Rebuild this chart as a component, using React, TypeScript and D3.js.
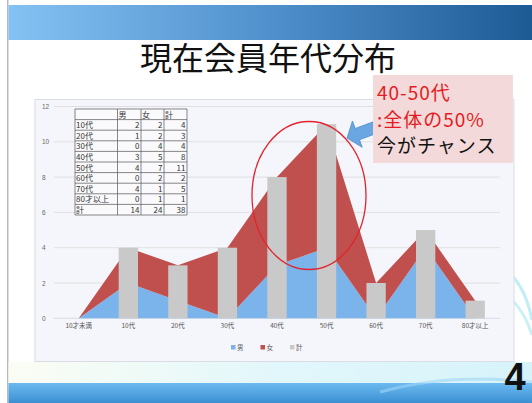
import React from 'react';
import * as d3 from 'd3';

// 年代別の会員数
const categories = ['10才未満', '10代', '20代', '30代', '40代', '50代', '60代', '70代', '80才以上'];
const male = [0, 2, 1, 0, 3, 4, 0, 4, 0];
const female = [0, 2, 2, 4, 5, 7, 2, 1, 1];
const total = [0, 4, 3, 4, 8, 11, 2, 5, 1];
const yTicks = [0, 2, 4, 6, 8, 10, 12];
const tableHeader = ['', '男', '女', '計'];
const legendItems = ['男', '女', '計'];
const calloutLines = ['40-50代', ':全体の50%', '今がチャンス'];

const W = 532;
const H = 403;
const JP = '"Noto Sans CJK JP", "Noto Sans", sans-serif';
const BLUE = '#7ab4ea';
const RED = '#c0504d';
const GRAY = '#c9c9c9';

const App: React.FC = () => {
  const x = d3.scalePoint<string>().domain(categories).range([54, 500]).padding(0.5);
  const step = x.step();
  const y = d3.scaleLinear().domain([0, 12]).range([318.3, 106.5]);

  const rows = categories.map((c, i) => ({ c, m: male[i], f: female[i], t: total[i] }));

  const maleArea = d3.area<typeof rows[number]>()
    .x(d => x(d.c) ?? 0)
    .y0(y(0))
    .y1(d => y(d.m));
  const femaleArea = d3.area<typeof rows[number]>()
    .x(d => x(d.c) ?? 0)
    .y0(d => y(d.m))
    .y1(d => y(d.m + d.f));

  const barW = step * 0.39;

  // table inside the chart
  const tableRows = rows.slice(1).map(r => [r.c, r.m, r.f, r.t]);
  tableRows.push(['計', d3.sum(male), d3.sum(female), d3.sum(total)]);
  const colX = [75, 117.5, 141, 164, 187];
  const rowH = 10.6;
  const tableTop = 109;
  const tableBottom = tableTop + rowH * (tableRows.length + 1);

  const legendColors = [BLUE, RED, GRAY];

  // arrow geometry
  const tip = [347, 138];
  const d = [-0.94, 0.35];
  const p = [0.35, 0.94];
  const pt = (k: number, w: number) =>
    `${tip[0] - d[0] * k + p[0] * w},${tip[1] - d[1] * k + p[1] * w}`;
  const arrow = [pt(0, 0), pt(11, 14), pt(11, 6), pt(40, 6), pt(40, -6), pt(11, -6), pt(11, -14)].join(' ');

  return (
    <svg width={W} height={H} style={{ position: 'absolute', left: 0, top: 0, display: 'block' }}>
      <defs>
        <linearGradient id="hdr" x1="0" x2="1" y1="0" y2="0">
          <stop offset="0" stopColor="#84c2f3" />
          <stop offset="0.5" stopColor="#4f8fcb" />
          <stop offset="1" stopColor="#1b5993" />
        </linearGradient>
        <linearGradient id="foot" x1="0" x2="0" y1="0" y2="1">
          <stop offset="0" stopColor="#6cbaf0" />
          <stop offset="1" stopColor="#3b8fd2" />
        </linearGradient>
        <linearGradient id="glow" x1="0" x2="1" y1="0" y2="0">
          <stop offset="0" stopColor="#fbfdf4" />
          <stop offset="0.5" stopColor="#e2f7fb" />
          <stop offset="1" stopColor="#d6f3fa" />
        </linearGradient>
      </defs>

      <rect x={0} y={0} width={W} height={H} fill="#fff" />
      <rect x={7} y={0} width={1.5} height={H} fill="#b9b9c2" />
      <rect x={8.5} y={5} width={W} height={35} fill="url(#hdr)" />
      <rect x={8.5} y={362} width={W} height={21} fill="url(#glow)" />
      <rect x={8.5} y={383} width={W} height={20} fill="url(#foot)" />
      <path d="M380,392 C430,378 480,376 532,382" stroke="#9fd6f6" strokeWidth={3} fill="none" opacity={0.6} />
      <path d="M505,270 C520,280 528,300 532,320" stroke="#bfeef6" strokeWidth={3} fill="none" />
      <path d="M512,300 C522,310 528,322 532,335" stroke="#c9f1f7" strokeWidth={3} fill="none" />

      <text x={268} y={70} textAnchor="middle" fontFamily={JP} fontSize={32} fill="#111">
        現在会員年代分布
      </text>

      {/* chart panel */}
      <rect x={35} y={99.5} width={479} height={262} fill="#f5f6fb" stroke="#dcdce4" />

      {yTicks.map(t => (
        <g key={t}>
          <line x1={54} x2={500} y1={y(t)} y2={y(t)} stroke={t === 0 ? '#cfd3e0' : '#dadada'} strokeWidth={0.8} />
          <text x={42} y={y(t) + 2.5} fontFamily="Arial, sans-serif" fontSize={6.5} fill="#666">{t}</text>
        </g>
      ))}

      <path d={maleArea(rows) ?? ''} fill={BLUE} />
      <path d={femaleArea(rows) ?? ''} fill={RED} />

      {rows.map(r => (
        <rect key={r.c} x={(x(r.c) ?? 0) - barW / 2} y={y(r.t)} width={barW} height={y(0) - y(r.t)} fill={GRAY} />
      ))}

      {categories.map(c => (
        <text key={c} x={x(c)} y={328} textAnchor="middle" fontFamily={JP} fontSize={6.5} fill="#555">{c}</text>
      ))}

      {/* legend */}
      {legendItems.map((l, i) => (
        <g key={l} transform={`translate(${231 + i * 29.5},345)`}>
          <rect x={0} y={0} width={4.5} height={4.5} fill={legendColors[i]} />
          <text x={6} y={5} fontFamily={JP} fontSize={6.5} fill="#555">{l}</text>
        </g>
      ))}

      {/* data table */}
      <rect x={colX[0]} y={tableTop} width={colX[4] - colX[0]} height={tableBottom - tableTop} fill="#fafafd" />
      {d3.range(tableRows.length + 2).map(i => (
        <line key={'h' + i} x1={colX[0]} x2={colX[4]} y1={tableTop + i * rowH} y2={tableTop + i * rowH} stroke="#555" strokeWidth={0.7} />
      ))}
      {colX.map((cx, i) => (
        <line key={'v' + i} x1={cx} x2={cx} y1={tableTop} y2={tableBottom} stroke="#555" strokeWidth={0.7} />
      ))}
      {tableHeader.map((h, i) => (
        <text key={'th' + i} x={colX[i] + 1} y={tableTop + rowH - 2} fontFamily={JP} fontSize={8} fill="#333">{h}</text>
      ))}
      {tableRows.map((r, ri) => (
        <g key={'tr' + ri}>
          {r.map((v, ci) => (
            <text
              key={ci}
              x={ci === 0 ? colX[0] + 1 : colX[ci + 1] - 1.5}
              y={tableTop + (ri + 2) * rowH - 2}
              textAnchor={ci === 0 ? 'start' : 'end'}
              fontFamily={JP}
              fontSize={8}
              fill="#333"
            >
              {v}
            </text>
          ))}
        </g>
      ))}

      {/* annotation */}
      <ellipse cx={309} cy={195.5} rx={57} ry={74} fill="none" stroke="#e2232d" strokeWidth={1.3} />
      <polygon points={arrow} fill="#6aa7e2" stroke="#4d8ccc" strokeWidth={0.8} />
      <rect x={373} y={75} width={140} height={88} fill="#f3d9d9" />
      {calloutLines.map((l, i) => (
        <text key={l} x={377} y={100 + i * 26.5} fontFamily={JP} fontSize={19} letterSpacing={1} fill={i < 2 ? '#e51c23' : '#111'}>{l}</text>
      ))}

      <text x={515} y={390} textAnchor="middle" fontFamily="Arial, sans-serif" fontWeight="bold" fontSize={38} fill="#111">4</text>
    </svg>
  );
};

export default App;
